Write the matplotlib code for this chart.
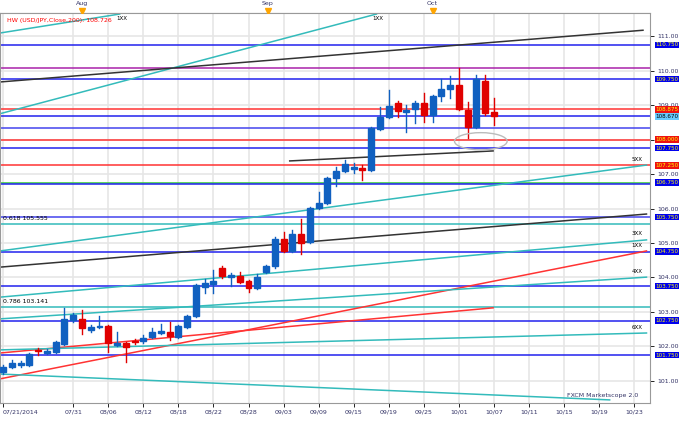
import matplotlib.pyplot as plt
from matplotlib.patches import Ellipse, Rectangle

# candles: open, high, low, close (trading days from 07/21/2014)
opens = [101.26, 101.40, 101.46, 101.46, 101.90, 101.81, 101.84, 102.07, 102.77, 102.80,
         102.48, 102.55, 102.60, 102.05, 102.10, 102.17, 102.16, 102.27, 102.40, 102.42,
         102.27, 102.57, 102.88, 103.72, 103.81, 104.28, 104.02, 104.04, 103.90, 103.70,
         104.16, 104.33, 105.12, 104.77, 105.26, 105.03, 106.01, 106.16, 106.88, 107.09,
         107.15, 107.17, 107.12, 108.30, 108.65, 109.06, 108.80, 108.88, 109.06, 108.71,
         109.26, 109.46, 109.58, 108.85, 108.36, 109.70, 108.80]
highs = [101.45, 101.61, 101.58, 101.82, 101.96, 101.92, 102.16, 103.12, 102.97, 103.06,
         102.62, 102.88, 102.63, 102.42, 102.13, 102.22, 102.33, 102.53, 102.65, 102.71,
         102.62, 102.91, 103.80, 103.96, 104.22, 104.33, 104.13, 104.16, 103.93, 104.10,
         104.36, 105.18, 105.32, 105.38, 105.70, 106.04, 106.48, 106.90, 107.20, 107.40,
         107.32, 107.26, 108.36, 108.94, 109.43, 109.12, 109.00, 109.12, 109.35, 109.30,
         109.75, 109.84, 110.07, 109.09, 109.87, 109.87, 109.20]
lows = [101.20, 101.37, 101.40, 101.43, 101.75, 101.78, 101.82, 102.04, 102.71, 102.36,
        102.42, 102.53, 101.84, 102.00, 101.55, 102.07, 102.10, 102.25, 102.36, 102.19,
        102.25, 102.54, 102.86, 103.55, 103.55, 103.99, 103.75, 103.84, 103.58, 103.67,
        104.13, 104.28, 104.74, 104.74, 104.68, 105.00, 105.98, 106.13, 106.65, 107.06,
        107.03, 106.82, 107.09, 108.27, 108.62, 108.65, 108.22, 108.48, 108.51, 108.51,
        109.11, 109.20, 108.85, 108.04, 108.33, 108.72, 108.43]
closes = [101.40, 101.52, 101.52, 101.78, 101.87, 101.87, 102.13, 102.80, 102.91, 102.54,
          102.57, 102.60, 102.10, 102.10, 101.98, 102.13, 102.25, 102.42, 102.44, 102.30,
          102.59, 102.88, 103.78, 103.84, 103.90, 104.04, 104.05, 103.87, 103.70, 104.01,
          104.33, 105.12, 104.77, 105.26, 105.00, 106.01, 106.16, 106.88, 107.09, 107.29,
          107.18, 107.11, 108.33, 108.65, 108.97, 108.83, 108.85, 109.06, 108.71, 109.26,
          109.46, 109.58, 108.88, 108.36, 109.75, 108.77, 108.68]

tick_pos = [0, 8, 12, 16, 20, 24, 28, 32, 36, 40, 44, 48, 52, 56, 60, 64, 68, 72]
tick_labels = ['07/21/2014', '07/31', '08/06', '08/12', '08/18', '08/22', '08/28', '09/03',
               '09/09', '09/15', '09/19', '09/25', '10/01', '10/07', '10/11', '10/15',
               '10/19', '10/23']

# horizontal levels: price, colour
levels = [(110.75, '#2222ee'), (110.07, '#aa22aa'), (109.75, '#2222ee'), (108.875, '#ff3333'),
          (108.67, '#2222ee'), (108.33, '#4444ee'), (108.00, '#ff3333'), (107.75, '#2222ee'),
          (107.25, '#ff3333'), (106.75, '#33cc33'), (106.72, '#2222ee'), (105.75, '#4444ee'),
          (105.555, '#33bbbb'), (104.75, '#2222ee'), (103.75, '#2222ee'), (103.141, '#33bbbb'),
          (102.75, '#2222ee'), (101.75, '#2222ee')]

# trend lines: (x0, y0, x1, y1, colour)
trends = [(-0.34, 111.09, 13.3, 111.64, '#33bbbb'),
          (-0.34, 108.75, 42.6, 111.64, '#33bbbb'),
          (-0.34, 109.67, 73.0, 111.17, '#333333'),
          (32.7, 107.38, 55.9, 107.67, '#333333'),
          (-0.34, 104.77, 73.4, 107.26, '#33bbbb'),
          (-0.34, 104.30, 73.4, 105.84, '#333333'),
          (-0.34, 103.43, 73.4, 105.09, '#33bbbb'),
          (-0.34, 101.06, 73.4, 104.77, '#ff3333'),
          (-0.34, 101.81, 55.9, 103.12, '#ff3333'),
          (-0.34, 102.80, 73.4, 104.01, '#33bbbb'),
          (-0.34, 101.90, 73.4, 102.39, '#33bbbb'),
          (-0.34, 101.20, 69.2, 100.45, '#33bbbb')]

# right-axis boxes: price, text, box colour, text colour
boxes = [(110.75, '110.750', '#0000ee', 'yellow'), (109.75, '109.750', '#0000ee', 'yellow'),
         (108.875, '108.875', '#ee1111', 'yellow'), (108.67, '108.670', '#66ccff', 'black'),
         (108.00, '108.000', '#ee1111', 'yellow'), (107.75, '107.750', '#0000ee', 'yellow'),
         (107.25, '107.250', '#ee1111', 'yellow'), (106.75, '106.750', '#0000ee', 'yellow'),
         (105.75, '105.750', '#0000ee', 'yellow'), (104.75, '104.750', '#0000ee', 'yellow'),
         (103.75, '103.750', '#0000ee', 'yellow'), (102.75, '102.750', '#0000ee', 'yellow'),
         (101.75, '101.750', '#0000ee', 'yellow')]

fig = plt.figure(figsize=(6.8, 4.21), dpi=100)
ax = fig.add_axes([0.0, 1 - 403 / 421, 650 / 680, 390 / 421])
ax.set_xlim(-0.35, 73.8)
ax.set_ylim(100.36, 111.67)

# grid
for p in tick_pos:
    ax.axvline(p, color='#e6e6e6', lw=1.2, zorder=0)
for v in range(101, 112):
    ax.axhline(v, color='#e6e6e6', lw=1.2, zorder=0)

for price, c in levels:
    ax.axhline(price, color=c, lw=1.1, zorder=1)
for x0, y0, x1, y1, c in trends:
    ax.plot([x0, x1], [y0, y1], color=c, lw=1.1, zorder=1)

# candles
for i in range(len(opens)):
    col = '#1060c0' if closes[i] >= opens[i] else '#e00000'
    ax.plot([i, i], [lows[i], highs[i]], color=col, lw=1, zorder=3)
    lo = min(opens[i], closes[i])
    h = max(abs(closes[i] - opens[i]), 0.04)
    ax.add_patch(Rectangle((i - 0.34, lo), 0.68, h, color=col, zorder=4))

ax.add_patch(Ellipse((54.5, 107.95), 6, 0.5, fill=False, ec='#bbbbbb', lw=1, zorder=5))

# small labels
ax.text(0, 105.65, '0.618 105.555', fontsize=4.5, va='bottom')
ax.text(0, 103.24, '0.786 103.141', fontsize=4.5, va='bottom')
ax.text(0.5, 111.45, 'HW (USD/JPY,Close,200): 108.726', color='red', fontsize=4.5, va='center')
for x, y, s in [(13.5, 111.45, '1XX'), (42.8, 111.45, '1XX'), (72.3, 107.35, '5XX'),
                (72.3, 105.2, '3XX'), (72.3, 104.85, '1XX'), (72.3, 104.1, '4XX'),
                (72.3, 102.48, '6XX')]:
    ax.text(x, y, s, fontsize=4, va='bottom', ha='center')
ax.text(72.5, 100.5, 'FXCM Marketscope 2.0', fontsize=4.5, ha='right', va='bottom', color='#333366')

ax.set_xticks(tick_pos)
ax.set_xticklabels(tick_labels, fontsize=4.5, color='#333366')
ax.get_xticklabels()[0].set_ha('left')
ax.yaxis.tick_right()
ax.set_yticks(range(101, 112))
ax.set_yticklabels(['%d.00' % v for v in range(101, 112)], fontsize=4.5, color='#333366')
ax.tick_params(length=3, width=0.6, pad=2)
for s in ax.spines.values():
    s.set_color('#999999')

for price, txt, bc, tc in boxes:
    ax.text(1.008, (price - 100.36) / (111.67 - 100.36), txt, transform=ax.transAxes,
            fontsize=4.1, color=tc, va='center', ha='left',
            bbox=dict(boxstyle='square,pad=0.12', fc=bc, ec='none'))

# top month strip
top = fig.add_axes([0.0, 1 - 13 / 421, 650 / 680, 13 / 421])
top.set_xlim(-0.35, 73.8)
top.set_ylim(0, 1)
top.axis('off')
for x, m in [(9, 'Aug'), (30.2, 'Sep'), (49, 'Oct')]:
    top.text(x, 0.75, m, fontsize=4.5, ha='center', va='center', color='#333366')
    top.plot(x, 0.15, marker='v', color='orange', ms=4)
top.axhline(0.02, color='#999999', lw=0.8)

fig.savefig('out.png', dpi=100)
